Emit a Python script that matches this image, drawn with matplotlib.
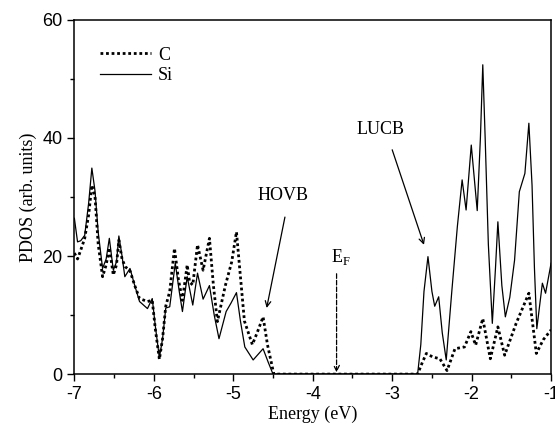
import matplotlib
matplotlib.use("Agg")
import matplotlib.pyplot as plt
from matplotlib.ticker import MultipleLocator

plt.rcParams['axes.unicode_minus'] = False

# Si projected DOS (energy in eV, arb. units)
si_energy = [-7.00, -6.96, -6.92, -6.87, -6.82, -6.78, -6.74, -6.70, -6.645, -6.60,
             -6.56, -6.51, -6.47, -6.44, -6.40, -6.365, -6.30, -6.24, -6.18, -6.08,
             -6.02, -5.98, -5.93, -5.89, -5.85, -5.80, -5.73, -5.68, -5.64, -5.58,
             -5.51, -5.45, -5.38, -5.30, -5.24, -5.18, -5.09, -5.03, -4.96, -4.91,
             -4.855, -4.75, -4.625, -4.56, -4.50, -2.68, -2.64, -2.60, -2.55, -2.50,
             -2.465, -2.415, -2.37, -2.32, -2.25, -2.18, -2.12, -2.07, -2.005, -1.93,
             -1.89, -1.86, -1.83, -1.79, -1.74, -1.70, -1.67, -1.62, -1.576, -1.52,
             -1.46, -1.40, -1.33, -1.28, -1.24, -1.21, -1.18, -1.15, -1.11, -1.07, -1.00]
si_pdos = [26.4, 22.4, 22.6, 23.5, 29.0, 34.9, 31.0, 24.0, 17.9, 19.5,
           23.0, 17.6, 19.0, 23.4, 20.0, 16.5, 17.9, 15.0, 12.3, 11.1,
           12.8, 8.0, 2.8, 6.0, 11.2, 11.4, 18.8, 14.0, 10.6, 16.5,
           11.7, 17.1, 12.7, 15.0, 10.0, 6.0, 10.6, 12.0, 13.8, 9.0,
           4.6, 2.4, 4.3, 2.0, 0.0, 0.0, 5.0, 14.0, 19.9, 14.0,
           11.5, 13.1, 7.0, 2.4, 14.0, 25.0, 32.9, 27.8, 38.8, 27.7,
           40.0, 52.4, 40.0, 22.0, 8.6, 18.0, 25.8, 15.0, 9.7, 13.0,
           19.3, 30.9, 34.0, 42.5, 32.0, 18.0, 7.7, 11.0, 15.4, 13.7, 18.8]

# C projected DOS
c_energy = [-7.00, -6.96, -6.92, -6.87, -6.82, -6.78, -6.74, -6.70, -6.645, -6.60,
            -6.56, -6.51, -6.47, -6.44, -6.40, -6.36, -6.30, -6.24, -6.18, -6.08,
            -6.02, -5.98, -5.93, -5.89, -5.85, -5.80, -5.74, -5.69, -5.64, -5.58,
            -5.55, -5.51, -5.45, -5.38, -5.30, -5.25, -5.20, -5.10, -5.02, -4.96,
            -4.92, -4.86, -4.76, -4.70, -4.625, -4.57, -4.49, -2.68, -2.62, -2.57,
            -2.49, -2.40, -2.31, -2.21, -2.09, -2.01, -1.95, -1.86, -1.765, -1.67,
            -1.585, -1.44, -1.28, -1.186, -1.10, -1.00]
c_pdos = [20.5, 19.5, 21.0, 23.0, 27.0, 32.0, 30.0, 22.0, 16.5, 18.5,
          21.4, 16.8, 18.5, 22.7, 19.5, 18.2, 17.5, 15.0, 12.8, 12.3,
          12.5, 7.5, 2.5, 6.0, 11.5, 14.0, 21.3, 16.0, 12.5, 18.5,
          15.6, 15.1, 21.9, 17.6, 23.0, 15.0, 8.9, 15.0, 19.0, 24.1,
          18.0, 9.0, 5.0, 7.0, 9.7, 5.0, 0.0, 0.0, 2.0, 3.5,
          2.9, 2.6, 0.6, 4.3, 4.6, 7.2, 4.9, 9.4, 2.6, 8.0,
          3.2, 8.6, 13.7, 3.5, 5.8, 7.5]

fermi = -3.70

fig = plt.figure(figsize=(5.55, 4.33), dpi=100)
ax = fig.add_axes([0.134, 0.136, 0.859, 0.818])

ax.plot(c_energy, c_pdos, color='black', linestyle=(0, (1, 1)), linewidth=2.0,
        label='C', dash_joinstyle='round')
ax.plot(si_energy, si_pdos, color='black', linestyle='-', linewidth=0.9,
        label='Si', solid_joinstyle='round')

ax.set_xlim(-7, -1)
ax.set_ylim(0, 60)
ax.xaxis.set_major_locator(MultipleLocator(1))
ax.xaxis.set_minor_locator(MultipleLocator(0.5))
ax.yaxis.set_major_locator(MultipleLocator(20))
ax.yaxis.set_minor_locator(MultipleLocator(10))
ax.tick_params(which='major', direction='out', length=5, width=1, labelsize=13,
               top=False, right=False)
ax.tick_params(which='minor', direction='out', length=3, width=1, top=False, right=False)
for lab in ax.get_xticklabels() + ax.get_yticklabels():
    lab.set_family('Liberation Sans')
for sp in ax.spines.values():
    sp.set_linewidth(1.1)

serif = 'Liberation Serif'
ax.set_xlabel('Energy (eV)', family=serif, fontsize=13, labelpad=2)
ax.set_ylabel('PDOS (arb. units)', family=serif, fontsize=13, labelpad=4)

ax.legend(loc='upper left', frameon=False, prop={'family': serif, 'size': 13},
          handlelength=2.8, handletextpad=0.4, labelspacing=0.2,
          bbox_to_anchor=(0.02, 0.97))

# band edge labels
ax.text(-4.38, 30.3, 'HOVB', family=serif, fontsize=13, ha='center', va='center')
ax.annotate('', xy=(-4.58, 11.2), xytext=(-4.35, 26.6),
            arrowprops=dict(arrowstyle='->', color='black', lw=0.9, shrinkA=0, shrinkB=0))
ax.text(-3.15, 41.4, 'LUCB', family=serif, fontsize=13, ha='center', va='center')
ax.annotate('', xy=(-2.60, 21.9), xytext=(-3.0, 38.0),
            arrowprops=dict(arrowstyle='->', color='black', lw=0.9, shrinkA=0, shrinkB=0))

# Fermi level marker
ax.annotate('', xy=(fermi, 0.3), xytext=(fermi, 17.0),
            arrowprops=dict(arrowstyle='->', color='black', lw=0.9, linestyle='--',
                            shrinkA=0, shrinkB=0))
ax.text(fermi + 0.05, 19.8, r'E$_\mathregular{F}$', family=serif, fontsize=13,
        ha='center', va='center')

fig.savefig('out.png', dpi=100)
